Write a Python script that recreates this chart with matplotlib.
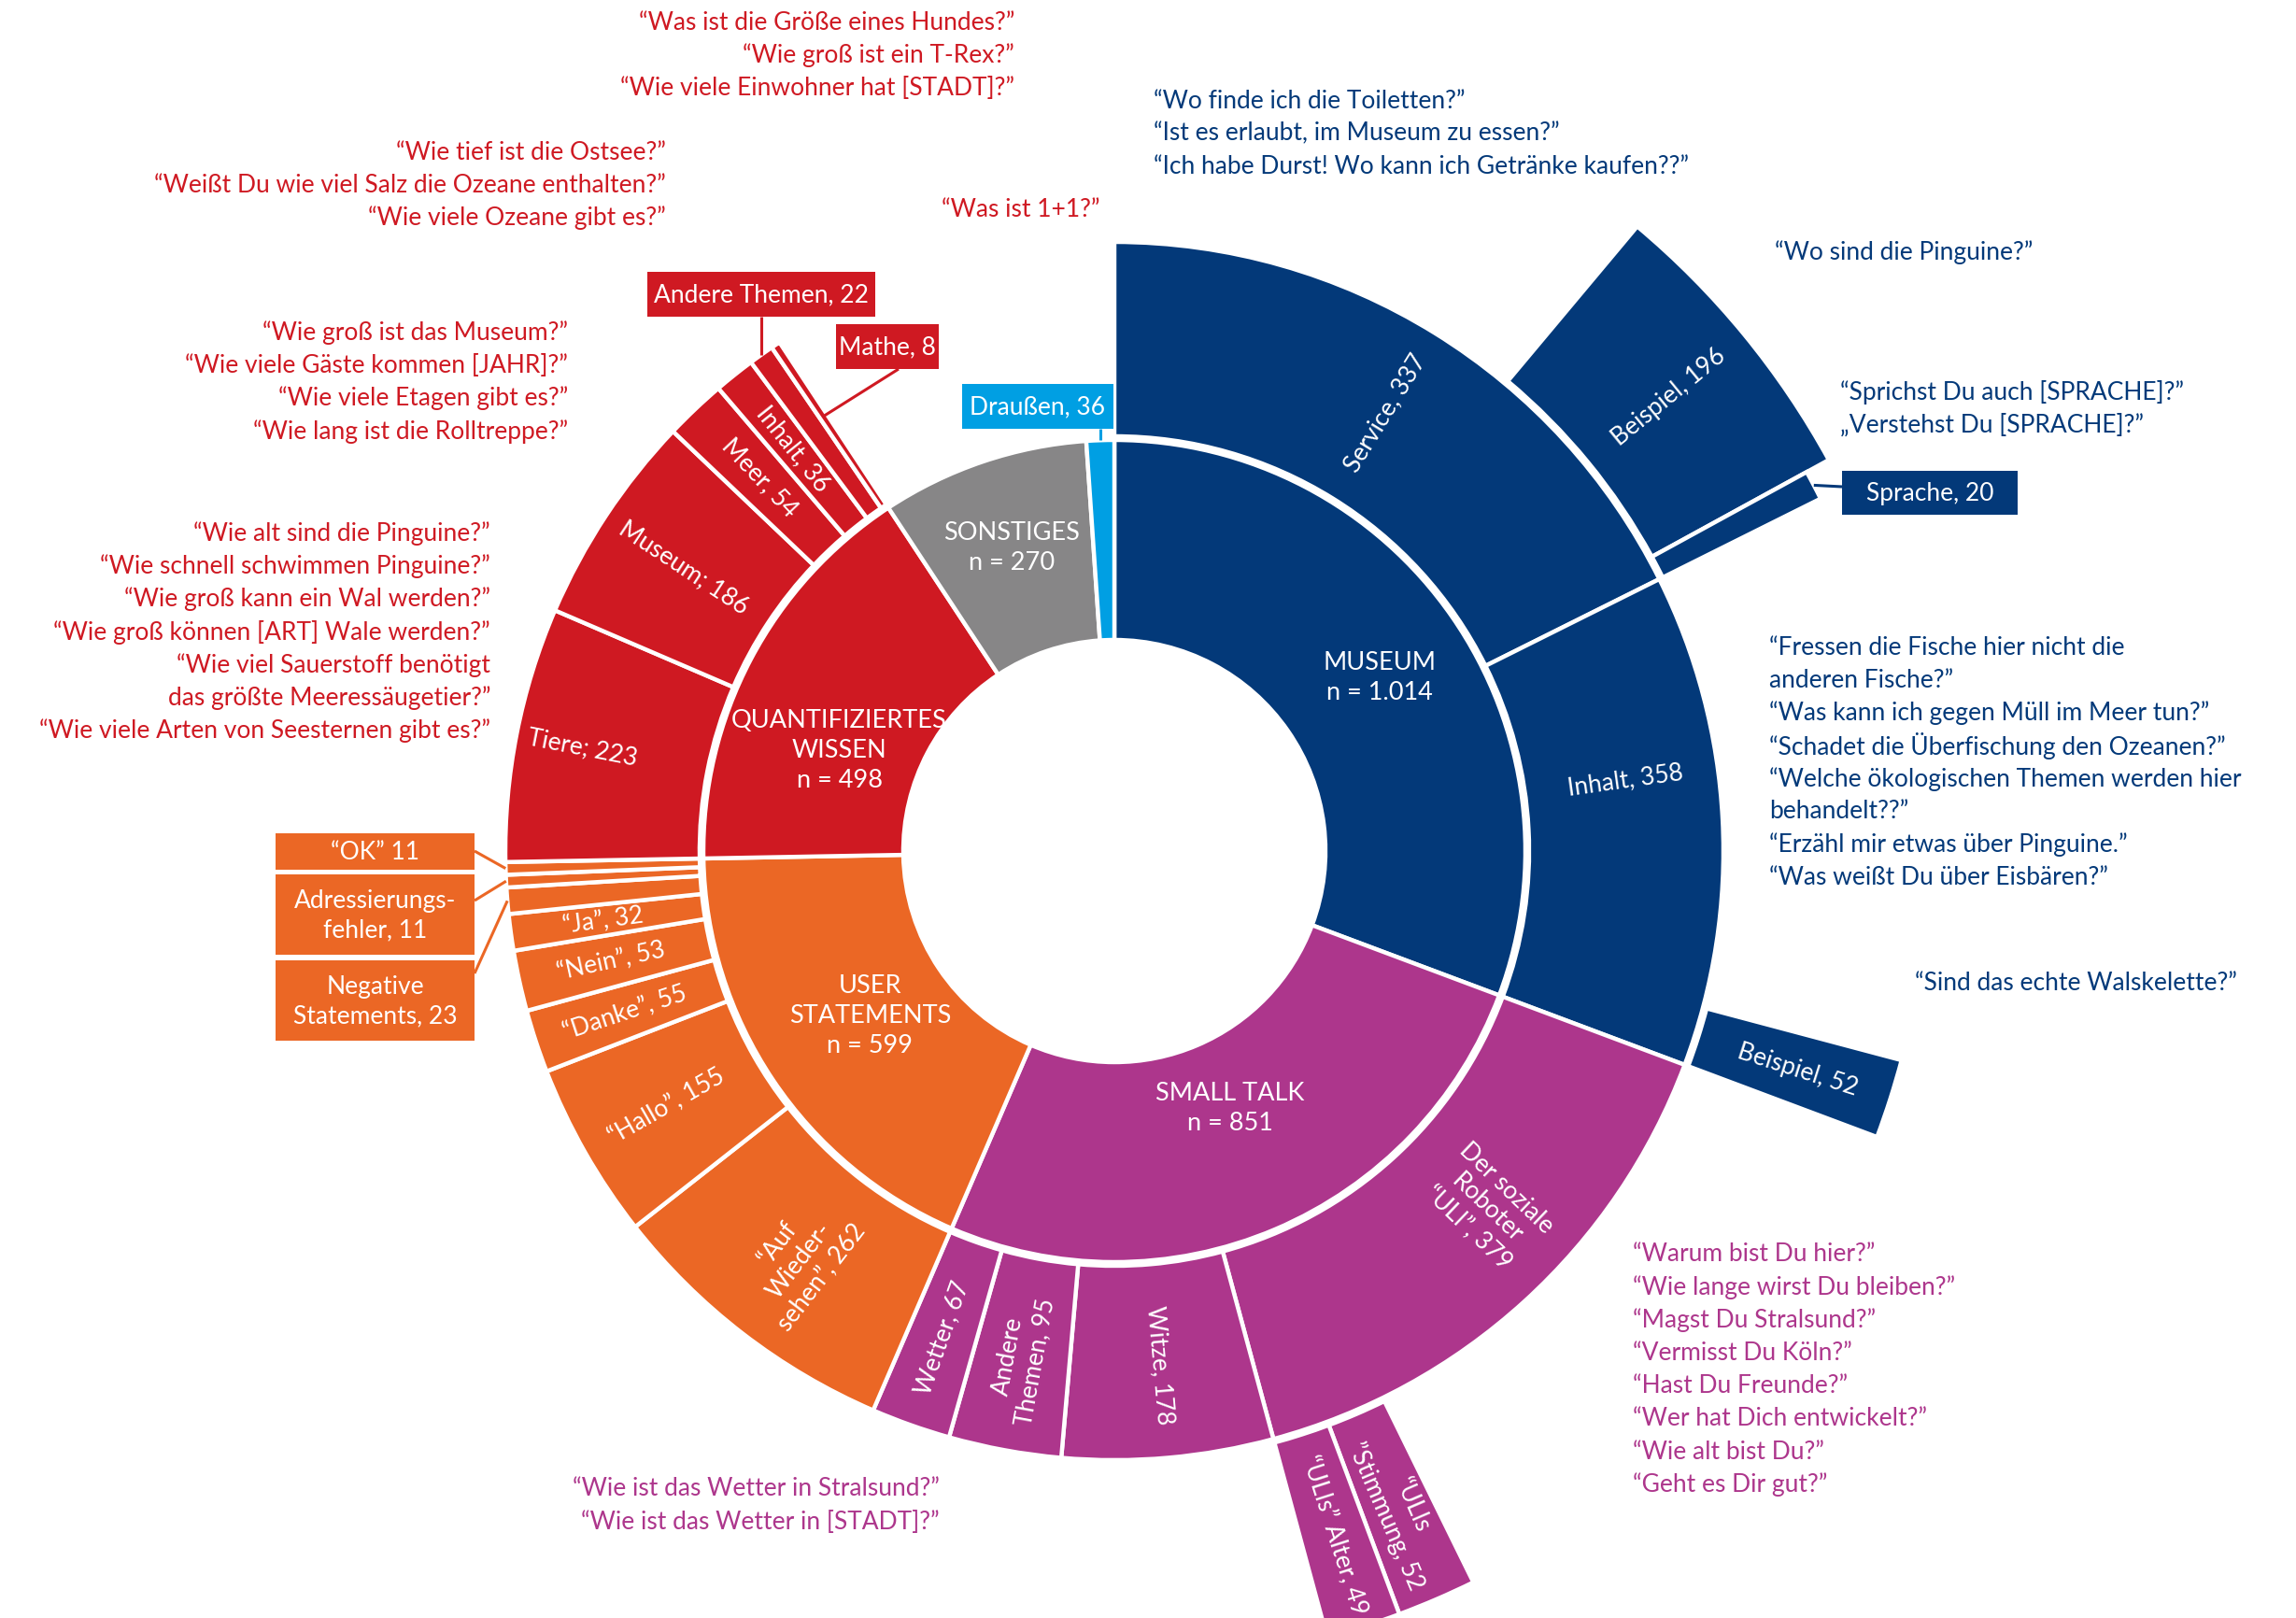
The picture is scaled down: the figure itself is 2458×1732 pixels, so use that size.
import numpy as np
import matplotlib.pyplot as plt
from matplotlib.patches import Rectangle

plt.rcParams["font.family"] = ["Lato", "DejaVu Sans"]

# innerer ring: kategorien im uhrzeigersinn ab 12 uhr
main_names = ["MUSEUM", "SMALL TALK", "USER\nSTATEMENTS", "QUANTIFIZIERTES\nWISSEN", "SONSTIGES", "Draußen"]
main_values = [1014, 851, 599, 498, 270, 36]
main_colors = ["#033979", "#AD368C", "#EB6725", "#CF1922", "#878687", "#009FE3"]

# mittlerer ring (unterkategorien)
museum_names = ["Service,", "Inhalt,"]
museum_values = [337, 358]
smalltalk_names = ["Der soziale\nRoboter\n“ULI”,", "Witze,", "Andere\nThemen,", "Wetter,"]
smalltalk_values = [379, 178, 95, 67]
user_names = ["“Auf\nWieder-\nsehen”,", "“Hallo”,", "“Danke”,", "“Nein”,", "“Ja”,",
              "Negative\nStatements,", "Adressierungs-\nfehler,", "“OK”"]
user_values = [262, 155, 55, 53, 32, 23, 11, 11]
wissen_names = ["Tiere;", "Museum;", "Meer,", "Inhalt,", "Andere Themen,", "Mathe,"]
wissen_values = [223, 186, 54, 36, 22, 8]

# äußerer ring
service_names = ["Beispiel,", "Sprache,"]
service_values = [196, 20]
inhalt_names = ["Beispiel,"]
inhalt_values = [52]
roboter_names = ["“ULIs\n”Stimmung,", "“ULIs” Alter,"]
roboter_values = [52, 49]

sub_names = [museum_names, smalltalk_names, user_names, wissen_names, [], []]
sub_values = [museum_values, smalltalk_values, user_values, wissen_values, [], []]
outer_sets = {(0, 0): (service_names, service_values),
              (0, 1): (inhalt_names, inhalt_values),
              (1, 0): (roboter_names, roboter_values)}

# beispielfragen
q_red1 = ["“Was ist die Größe eines Hundes?”", "“Wie groß ist ein T-Rex?”",
          "“Wie viele Einwohner hat [STADT]?”"]
q_red2 = ["“Wie tief ist die Ostsee?”", "“Weißt Du wie viel Salz die Ozeane enthalten?”",
          "“Wie viele Ozeane gibt es?”"]
q_red3 = ["“Was ist 1+1?”"]
q_red4 = ["“Wie groß ist das Museum?”", "“Wie viele Gäste kommen [JAHR]?”",
          "“Wie viele Etagen gibt es?”", "“Wie lang ist die Rolltreppe?”"]
q_red5 = ["“Wie alt sind die Pinguine?”", "“Wie schnell schwimmen Pinguine?”",
          "“Wie groß kann ein Wal werden?”", "“Wie groß können [ART] Wale werden?”",
          "“Wie viel Sauerstoff benötigt", "das größte Meeressäugetier?”",
          "“Wie viele Arten von Seesternen gibt es?”"]
q_blue1 = ["“Wo finde ich die Toiletten?”", "“Ist es erlaubt, im Museum zu essen?”",
           "“Ich habe Durst! Wo kann ich Getränke kaufen??”"]
q_blue2 = ["“Wo sind die Pinguine?”"]
q_blue3 = ["“Sprichst Du auch [SPRACHE]?”", "„Verstehst Du [SPRACHE]?”"]
q_blue4 = ["“Fressen die Fische hier nicht die", "anderen Fische?”",
           "“Was kann ich gegen Müll im Meer tun?”", "“Schadet die Überfischung den Ozeanen?”",
           "“Welche ökologischen Themen werden hier", "behandelt??”",
           "“Erzähl mir etwas über Pinguine.”", "“Was weißt Du über Eisbären?”"]
q_blue5 = ["“Sind das echte Walskelette?”"]
q_purple1 = ["“Warum bist Du hier?”", "“Wie lange wirst Du bleiben?”", "“Magst Du Stralsund?”",
             "“Vermisst Du Köln?”", "“Hast Du Freunde?”", "“Wer hat Dich entwickelt?”",
             "“Wie alt bist Du?”", "“Geht es Dir gut?”"]
q_purple2 = ["“Wie ist das Wetter in Stralsund?”", "“Wie ist das Wetter in [STADT]?”"]

# layout (pixel)
W, H = 2458, 1733
cx, cy, R = 1193, 912, 900
r0, r1, r2, r3 = 226, 440, 652, 872
gap = 4
fs = 19
lw = 3.2
# position der beschriftungen im inneren ring: (winkel-versatz, radius)
inner_label_pos = [(1.5, 340), (-1.2, 301), (0, 315), (-7.5, 314), (0, 343)]
label_shift = {"0/Inhalt,": -5, "1/Der soziale\nRoboter\n“ULI”,": -4}
outer_r = {"Sprache,": 845}

fig = plt.figure(figsize=(W / 100, H / 100), dpi=100)
axp = fig.add_axes([(cx - R) / W, (H - cy - R) / H, 2 * R / W, 2 * R / H], projection="polar")
axp.set_theta_zero_location("N")
axp.set_theta_direction(-1)
axp.set_ylim(0, R)
axp.set_axis_off()

ax = fig.add_axes([0, 0, 1, 1])
ax.set_xlim(0, W)
ax.set_ylim(H, 0)
ax.set_axis_off()


def px(theta, r):
    t = np.radians(theta)
    return cx + r * np.sin(t), cy - r * np.cos(t)


def radial_rot(theta):
    rot = (90 - theta + 180) % 360 - 180
    if rot > 90:
        rot -= 180
    if rot < -90:
        rot += 180
    return rot


def wedge(start, span, rin, rout, color):
    axp.bar(np.radians(start), rout - rin, width=np.radians(span), bottom=rin, align="edge",
            color=color, edgecolor="white", linewidth=lw)


def slice_label(theta, r, text, size=fs):
    axp.text(np.radians(theta), r, text, rotation=radial_rot(theta), rotation_mode="anchor",
             ha="center", va="center", color="white", fontsize=size, multialignment="center",
             linespacing=1.25)


# winkel: kategorie oder summe der unterkategorien, je nachdem was größer ist
weights = [max(v, sum(s)) for v, s in zip(main_values, sub_values)]
k = 360 / sum(weights)
spans = [w * k for w in weights]
starts = np.concatenate([[0], np.cumsum(spans)[:-1]])

seg = {}
for i, (name, val) in enumerate(zip(main_names, main_values)):
    wedge(starts[i], spans[i], r0, r1, main_colors[i])
    seg[name] = (starts[i], spans[i], r0, r1)
    if i < 5:
        dth, lr = inner_label_pos[i]
        x, y = px(starts[i] + spans[i] / 2 + dth, lr)
        ax.text(x, y, f"{name}\nn = {val:,}".replace(",", "."), ha="center", va="center",
                color="white", fontsize=fs + 0.5, linespacing=1.35)

    names, vals = sub_names[i], sub_values[i]
    if not vals:
        continue
    # unterkategorie inkl. ihrer beispiele im äußeren ring
    cw = [cv + sum(outer_sets.get((i, j), ([], [0]))[1]) for j, cv in enumerate(vals)]
    scale = spans[i] / sum(cw)
    s = starts[i]
    for j, (cn, cv) in enumerate(zip(names, vals)):
        sp = cw[j] * scale
        key = f"{i}/{cn}"
        wedge(s, sp, r1 + gap, r2, main_colors[i])
        seg[key] = (s, sp, r1 + gap, r2)
        if sp > 3.0 and not cn.startswith("Andere Themen"):
            lr = 580 if cn == "Tiere;" else 552
            slice_label(s + sp / 2 + label_shift.get(key, 0), lr, f"{cn} {cv}")
        if (i, j) in outer_sets:
            on, ov = outer_sets[(i, j)]
            osp = [v * k for v in ov]
            os_ = s + sp - sum(osp)
            for on_, ov_, sp_ in zip(on, ov, osp):
                ro = outer_r.get(on_, r3)
                wedge(os_, sp_, r2 + gap, ro, main_colors[i])
                seg[f"{i}/{j}/{on_}"] = (os_, sp_, r2 + gap, ro)
                if sp_ > 3.0:
                    slice_label(os_ + sp_ / 2, 768, f"{on_} {ov_}")
                os_ += sp_
        s += sp


def box(x, y, w, h, text, color):
    ax.add_patch(Rectangle((x, y), w, h, facecolor=color, edgecolor="none"))
    ax.text(x + w / 2, y + h / 2, text, ha="center", va="center", color="white",
            fontsize=fs, linespacing=1.3)


def leader(p, q, color):
    ax.plot([p[0], q[0]], [p[1], q[1]], color=color, lw=2.2, solid_capstyle="butt")


navy, purple, orange, red, blue = main_colors[0], main_colors[1], main_colors[2], main_colors[3], main_colors[5]

# draußen
s, sp, a, b = seg["Draußen"]
p = px(s + sp / 2, b)
box(1030, 412, 162, 48, f"Draußen, {main_values[5]}", blue)
leader(p, (p[0], 460), blue)

# andere themen / mathe
s, sp, a, b = seg["3/Andere Themen,"]
p = px(s + sp / 2, b)
box(693, 292, 244, 48, f"Andere Themen, {wissen_values[4]}", red)
leader(p, (p[0], 340), red)
s, sp, a, b = seg["3/Mathe,"]
p = px(s + sp / 2, 560)
box(895, 348, 110, 48, f"Mathe, {wissen_values[5]}", red)
leader(p, (962, 396), red)

# sprache
s, sp, a, b = seg["0/0/Sprache,"]
p = px(s + sp / 2, b)
box(1972, 505, 188, 47, f"Sprache, {service_values[1]}", navy)
leader(p, (1972, 522), navy)

# user statements, kleine segmente
for key, (y, h), lab, ay in [("2/“OK”", (893, 39), f"“OK” {user_values[7]}", 912),
                             ("2/Adressierungs-\nfehler,", (937, 86),
                              f"Adressierungs-\nfehler, {user_values[6]}", 965),
                             ("2/Negative\nStatements,", (1029, 86),
                              f"Negative\nStatements, {user_values[5]}", 1043)]:
    s, sp, a, b = seg[key]
    p = px(s + sp / 2, b)
    box(295, y, 213, h, lab, orange)
    leader(p, (508, ay), orange)


def question_block(lines, x, y0, color, ha):
    for n, line in enumerate(lines):
        ax.text(x, y0 + n * 35.2, line, ha=ha, va="center", color=color, fontsize=fs)


question_block(q_red1, 1086, 24, red, "right")
question_block(q_red2, 713, 163, red, "right")
question_block(q_red3, 1008, 224, red, "left")
question_block(q_red4, 608, 356, red, "right")
question_block(q_red5, 525, 571, red, "right")
question_block(q_blue1, 1235, 108, navy, "left")
question_block(q_blue2, 1900, 270, navy, "left")
question_block(q_blue3, 1970, 420, navy, "left")
question_block(q_blue4, 1894, 693, navy, "left")
question_block(q_blue5, 2050, 1053, navy, "left")
question_block(q_purple1, 1748, 1343, purple, "left")
question_block(q_purple2, 1006, 1594, purple, "right")

fig.savefig("out.png", dpi=100, facecolor="white")
